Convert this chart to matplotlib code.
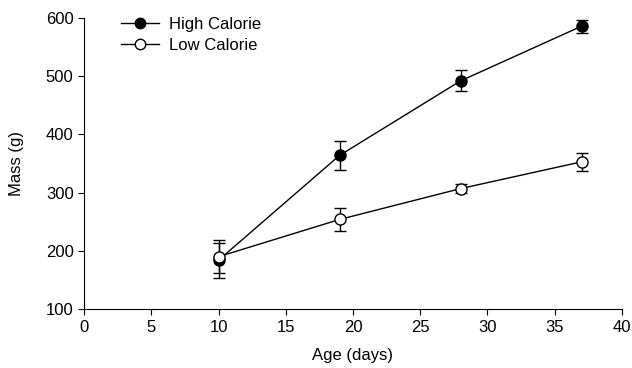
import numpy as np
import matplotlib.pyplot as plt
from matplotlib.lines import Line2D

plt.rcParams['font.family'] = ['Liberation Sans', 'DejaVu Sans']

# ----- datos -----
age = [10, 19, 28, 37]
high_mass = [184, 364, 492, 586]
high_err = [30, 25, 18, 11]
low_mass = [190, 254, 307, 353]
low_err = [28, 19, 8, 15]

fig = plt.figure(figsize=(6.32, 3.68), dpi=100)
ax = fig.add_axes([0.133, 0.160, 0.851, 0.791])

ax.errorbar(age, high_mass, yerr=high_err, color='black', lw=1, marker='o',
            ms=8, mfc='black', mec='black', capsize=4.5, elinewidth=1,
            capthick=1, zorder=3)
ax.errorbar(age, low_mass, yerr=low_err, color='black', lw=1, marker='o',
            ms=8, mfc='white', mec='black', capsize=4.5, elinewidth=1,
            capthick=1, zorder=4)

ax.set_xlim(0, 40)
ax.set_ylim(100, 600)
ax.set_xticks(np.arange(0, 41, 5))
ax.set_yticks(np.arange(100, 601, 100))
ax.spines['top'].set_visible(False)
ax.spines['right'].set_visible(False)
ax.tick_params(direction='out', length=4, labelsize=12)
ax.set_xlabel('Age (days)', fontsize=12, labelpad=10)
ax.set_ylabel('Mass (g)', fontsize=12, labelpad=16)

# leyenda sin barras de error
handles = [
    Line2D([], [], color='black', lw=1, marker='o', ms=7.5, mfc='black', mec='black'),
    Line2D([], [], color='black', lw=1, marker='o', ms=7.5, mfc='white', mec='black'),
]
ax.legend(handles, ['High Calorie', 'Low Calorie'], loc='upper left',
          frameon=False, fontsize=12, bbox_to_anchor=(0.04, 1.055),
          handlelength=2.3, handletextpad=0.6, labelspacing=0.35)

fig.savefig('out.png', dpi=100)
